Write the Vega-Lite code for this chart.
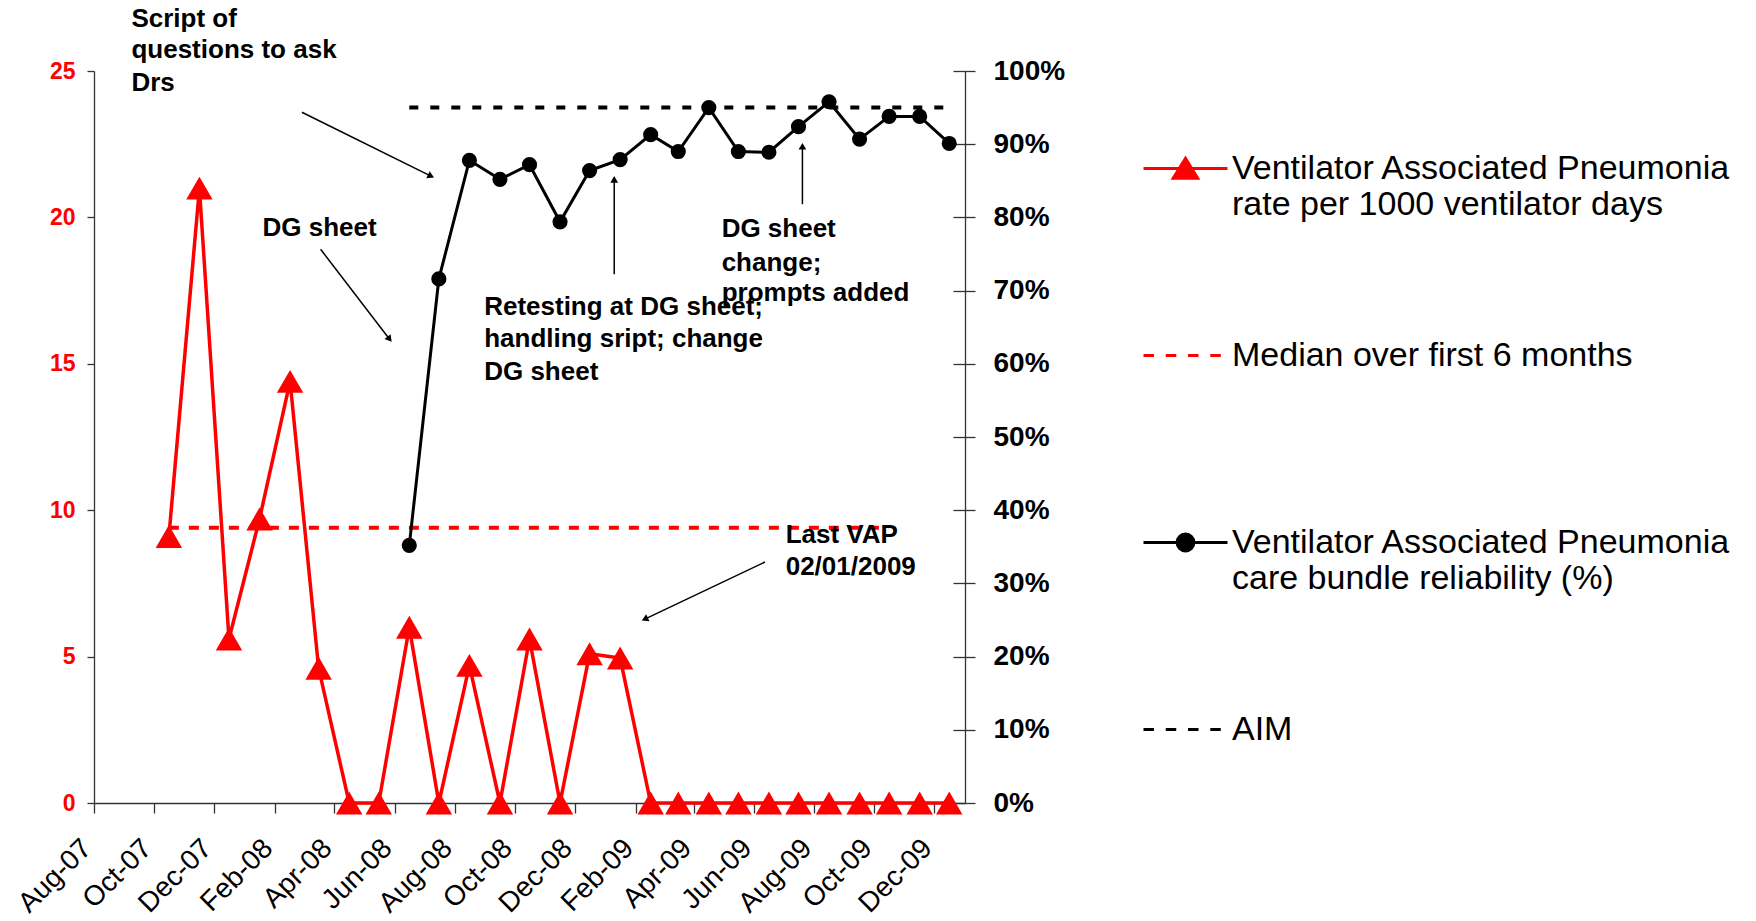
{
  "$schema": "https://vega.github.io/schema/vega-lite/v6.json",
  "width": 871,
  "height": 732,
  "autosize": "none",
  "padding": {"left": 94, "top": 71, "right": 791, "bottom": 118},
  "background": "white",
  "config": {"view": {"stroke": null}, "font": "Liberation Sans", "axis": {"grid": false}},
  "datasets": {
    "rate": [
      {"date": "2007-10-16", "v": 9.1}, {"date": "2007-11-16", "v": 21.0}, {"date": "2007-12-16", "v": 5.6},
      {"date": "2008-01-16", "v": 9.7}, {"date": "2008-02-16", "v": 14.4}, {"date": "2008-03-16", "v": 4.6},
      {"date": "2008-04-16", "v": 0}, {"date": "2008-05-16", "v": 0}, {"date": "2008-06-16", "v": 6.0},
      {"date": "2008-07-16", "v": 0}, {"date": "2008-08-16", "v": 4.7}, {"date": "2008-09-16", "v": 0},
      {"date": "2008-10-16", "v": 5.6}, {"date": "2008-11-16", "v": 0}, {"date": "2008-12-16", "v": 5.1},
      {"date": "2009-01-16", "v": 4.95}, {"date": "2009-02-16", "v": 0}, {"date": "2009-03-16", "v": 0},
      {"date": "2009-04-16", "v": 0}, {"date": "2009-05-16", "v": 0}, {"date": "2009-06-16", "v": 0},
      {"date": "2009-07-16", "v": 0}, {"date": "2009-08-16", "v": 0}, {"date": "2009-09-16", "v": 0},
      {"date": "2009-10-16", "v": 0}, {"date": "2009-11-16", "v": 0}, {"date": "2009-12-16", "v": 0}
    ],
    "bundle": [
      {"date": "2008-06-16", "p": 0.352}, {"date": "2008-07-16", "p": 0.716}, {"date": "2008-08-16", "p": 0.878},
      {"date": "2008-09-16", "p": 0.852}, {"date": "2008-10-16", "p": 0.872}, {"date": "2008-11-16", "p": 0.794},
      {"date": "2008-12-16", "p": 0.864}, {"date": "2009-01-16", "p": 0.879}, {"date": "2009-02-16", "p": 0.913},
      {"date": "2009-03-16", "p": 0.890}, {"date": "2009-04-16", "p": 0.950}, {"date": "2009-05-16", "p": 0.890},
      {"date": "2009-06-16", "p": 0.889}, {"date": "2009-07-16", "p": 0.924}, {"date": "2009-08-16", "p": 0.958},
      {"date": "2009-09-16", "p": 0.907}, {"date": "2009-10-16", "p": 0.938}, {"date": "2009-11-16", "p": 0.938},
      {"date": "2009-12-16", "p": 0.901}
    ],
    "median": [{"date": "2007-10-16", "v": 9.4}, {"date": "2009-10-16", "v": 9.4}],
    "aim": [{"date": "2008-06-16", "p": 0.95}, {"date": "2009-12-16", "p": 0.95}],
    "notes": [
      {"date": "2007-09-08", "v": 26.77, "t": "Script of"},
      {"date": "2007-09-08", "v": 25.71, "t": "questions to ask"},
      {"date": "2007-09-08", "v": 24.58, "t": "Drs"},
      {"date": "2008-01-19", "v": 19.63, "t": "DG sheet"},
      {"date": "2008-08-31", "v": 16.93, "t": "Retesting at DG sheet;"},
      {"date": "2008-08-31", "v": 15.84, "t": "handling sript; change"},
      {"date": "2008-08-31", "v": 14.71, "t": "DG sheet"},
      {"date": "2009-04-29", "v": 19.60, "t": "DG sheet"},
      {"date": "2009-04-29", "v": 18.44, "t": "change;"},
      {"date": "2009-04-29", "v": 17.41, "t": "prompts added"},
      {"date": "2009-07-03", "v": 9.15, "t": "Last VAP"},
      {"date": "2009-07-03", "v": 8.06, "t": "02/01/2009"}
    ],
    "arrows": [
      {"date": "2008-02-28", "v": 23.59, "date2": "2008-07-08", "v2": 21.41, "angle": 116},
      {"date": "2008-03-18", "v": 18.91, "date2": "2008-05-27", "v2": 15.84, "angle": 142},
      {"date": "2009-01-10", "v": 18.06, "date2": "2009-01-10", "v2": 21.30, "angle": 0},
      {"date": "2009-07-20", "v": 20.45, "date2": "2009-07-20", "v2": 22.43, "angle": 0},
      {"date": "2009-06-12", "v": 8.23, "date2": "2009-02-10", "v2": 6.28, "angle": 245}
    ],
    "legend": [
      {"s": "Ventilator Associated Pneumonia|rate per 1000 ventilator days"},
      {"s": "Median over first 6 months"},
      {"s": "Ventilator Associated Pneumonia|care bundle reliability (%)"},
      {"s": "AIM"}
    ]
  },
  "resolve": {"scale": {"y": "independent"}},
  "layer": [
    {
      "encoding": {
        "x": {
          "field": "date", "type": "temporal",
          "scale": {"type": "utc", "domain": [{"year": 2007, "month": 8, "date": 1, "utc": true}, {"year": 2010, "month": 1, "date": 1, "utc": true}]},
          "axis": {
            "title": null, "format": "%b-%y",
            "values": [
              {"year": 2007, "month": 8, "date": 1, "utc": true}, {"year": 2007, "month": 10, "date": 1, "utc": true},
              {"year": 2007, "month": 12, "date": 1, "utc": true}, {"year": 2008, "month": 2, "date": 1, "utc": true},
              {"year": 2008, "month": 4, "date": 1, "utc": true}, {"year": 2008, "month": 6, "date": 1, "utc": true},
              {"year": 2008, "month": 8, "date": 1, "utc": true}, {"year": 2008, "month": 10, "date": 1, "utc": true},
              {"year": 2008, "month": 12, "date": 1, "utc": true}, {"year": 2009, "month": 2, "date": 1, "utc": true},
              {"year": 2009, "month": 4, "date": 1, "utc": true}, {"year": 2009, "month": 6, "date": 1, "utc": true},
              {"year": 2009, "month": 8, "date": 1, "utc": true}, {"year": 2009, "month": 10, "date": 1, "utc": true},
              {"year": 2009, "month": 12, "date": 1, "utc": true}
            ],
            "labelAngle": -45, "labelAlign": "right", "labelBaseline": "top",
            "labelFont": "Liberation Sans", "labelFontSize": 28, "labelColor": "black",
            "labelPadding": 21, "labelOffset": -17, "labelFlush": false, "labelOverlap": false, "labelBound": false,
            "tickSize": 10, "tickColor": "#333333", "tickWidth": 1.3,
            "domainColor": "#333333", "domainWidth": 1.3
          }
        },
        "y": {
          "field": "v", "type": "quantitative",
          "scale": {"domain": [0, 25], "nice": false, "zero": true},
          "axis": {
            "title": null, "values": [0, 5, 10, 15, 20, 25],
            "labelFont": "Liberation Sans", "labelFontSize": 23, "labelFontWeight": "bold", "labelColor": "#ff0000",
            "labelPadding": 12, "tickSize": 7, "tickColor": "#333333", "tickWidth": 1.3,
            "domainColor": "#333333", "domainWidth": 1.3
          }
        }
      },
      "layer": [
        {"data": {"name": "median"}, "mark": {"type": "line", "color": "#ff0000", "strokeWidth": 4, "strokeDash": [10, 10]}},
        {"data": {"name": "rate"}, "mark": {"type": "line", "color": "#ff0000", "strokeWidth": 3.5}},
        {"data": {"name": "rate"}, "mark": {"type": "point", "shape": "triangle-up", "filled": true, "size": 700, "color": "#ff0000", "opacity": 1}},
        {"data": {"name": "arrows"}, "mark": {"type": "rule", "color": "black", "strokeWidth": 1.5},
         "encoding": {"x2": {"field": "date2"}, "y2": {"field": "v2"}}},
        {"data": {"name": "arrows"}, "mark": {"type": "point", "shape": "triangle-up", "filled": true, "size": 60, "color": "black", "opacity": 1},
         "encoding": {
           "x": {"field": "date2", "type": "temporal", "axis": {"title": null}},
           "y": {"field": "v2", "type": "quantitative", "axis": {"title": null}},
           "angle": {"field": "angle", "type": "quantitative", "scale": null}
         }},
        {"data": {"name": "notes"}, "mark": {"type": "text", "align": "left", "baseline": "middle", "font": "Liberation Sans", "fontSize": 26, "fontWeight": "bold", "color": "black"},
         "encoding": {"text": {"field": "t"}}}
      ]
    },
    {
      "encoding": {
        "x": {"field": "date", "type": "temporal"},
        "y": {
          "field": "p", "type": "quantitative",
          "scale": {"domain": [0, 1], "nice": false},
          "axis": {
            "orient": "right", "title": null, "format": ".0%",
            "values": [0, 0.1, 0.2, 0.3, 0.4, 0.5, 0.6, 0.7, 0.8, 0.9, 1],
            "labelFont": "Liberation Sans", "labelFontSize": 28, "labelFontWeight": "bold", "labelColor": "black",
            "labelPadding": 18, "tickSize": 10, "tickColor": "#333333", "tickWidth": 1.3,
            "domainColor": "#333333", "domainWidth": 1.3
          }
        }
      },
      "layer": [
        {"data": {"name": "aim"}, "mark": {"type": "line", "color": "black", "strokeWidth": 4, "strokeDash": [9, 12]}},
        {"data": {"name": "bundle"}, "mark": {"type": "line", "color": "black", "strokeWidth": 3}},
        {"data": {"name": "bundle"}, "mark": {"type": "point", "shape": "circle", "filled": true, "size": 230, "color": "black", "opacity": 1}}
      ]
    },
    {
      "data": {"name": "aim"},
      "mark": {"type": "point", "opacity": 0},
      "encoding": {
        "x": {"field": "date", "type": "temporal"},
        "y": {
          "field": "p", "type": "quantitative",
          "scale": {"domain": [0, 1], "nice": false},
          "axis": {
            "orient": "right", "title": null, "labels": false, "domain": false,
            "values": [0, 0.1, 0.2, 0.3, 0.4, 0.5, 0.6, 0.7, 0.8, 0.9, 1],
            "tickSize": -12, "tickColor": "#333333", "tickWidth": 1.3
          }
        }
      }
    },
    {
      "data": {"name": "legend"},
      "mark": {"type": "point", "filled": true, "opacity": 0, "strokeWidth": 3},
      "encoding": {
        "shape": {
          "field": "s", "type": "nominal",
          "scale": {
            "domain": ["Ventilator Associated Pneumonia|rate per 1000 ventilator days", "Median over first 6 months", "Ventilator Associated Pneumonia|care bundle reliability (%)", "AIM"],
            "range": [
              "M-1,0L1,0M-0.29,0.23L0,-0.24L0.29,0.23Z",
              "M-1,0L-0.75,0M-0.47,0L-0.22,0M0.06,0L0.31,0M0.59,0L0.84,0",
              "M-1,0L1,0M-0.2,0A0.2,0.2,0,1,0,0.2,0A0.2,0.2,0,1,0,-0.2,0Z",
              "M-1,0L-0.75,0M-0.47,0L-0.22,0M0.06,0L0.31,0M0.59,0L0.84,0"
            ]
          },
          "legend": {
            "orient": "none", "legendX": 1048, "legendY": 54, "title": null,
            "symbolSize": 7056, "symbolStrokeWidth": 3, "symbolOpacity": 1,
            "labelFont": "Liberation Sans", "labelFontSize": 34, "labelColor": "black",
            "labelExpr": "split(datum.label, '|')", "labelLimit": 800, "labelOffset": 3,
            "rowPadding": 90, "gridAlign": "all", "padding": 0
          }
        },
        "color": {
          "field": "s", "type": "nominal",
          "scale": {
            "domain": ["Ventilator Associated Pneumonia|rate per 1000 ventilator days", "Median over first 6 months", "Ventilator Associated Pneumonia|care bundle reliability (%)", "AIM"],
            "range": ["#ff0000", "#ff0000", "#000000", "#000000"]
          }
        },
        "stroke": {
          "field": "s", "type": "nominal",
          "scale": {
            "domain": ["Ventilator Associated Pneumonia|rate per 1000 ventilator days", "Median over first 6 months", "Ventilator Associated Pneumonia|care bundle reliability (%)", "AIM"],
            "range": ["#ff0000", "#ff0000", "#000000", "#000000"]
          }
        }
      }
    }
  ]
}
